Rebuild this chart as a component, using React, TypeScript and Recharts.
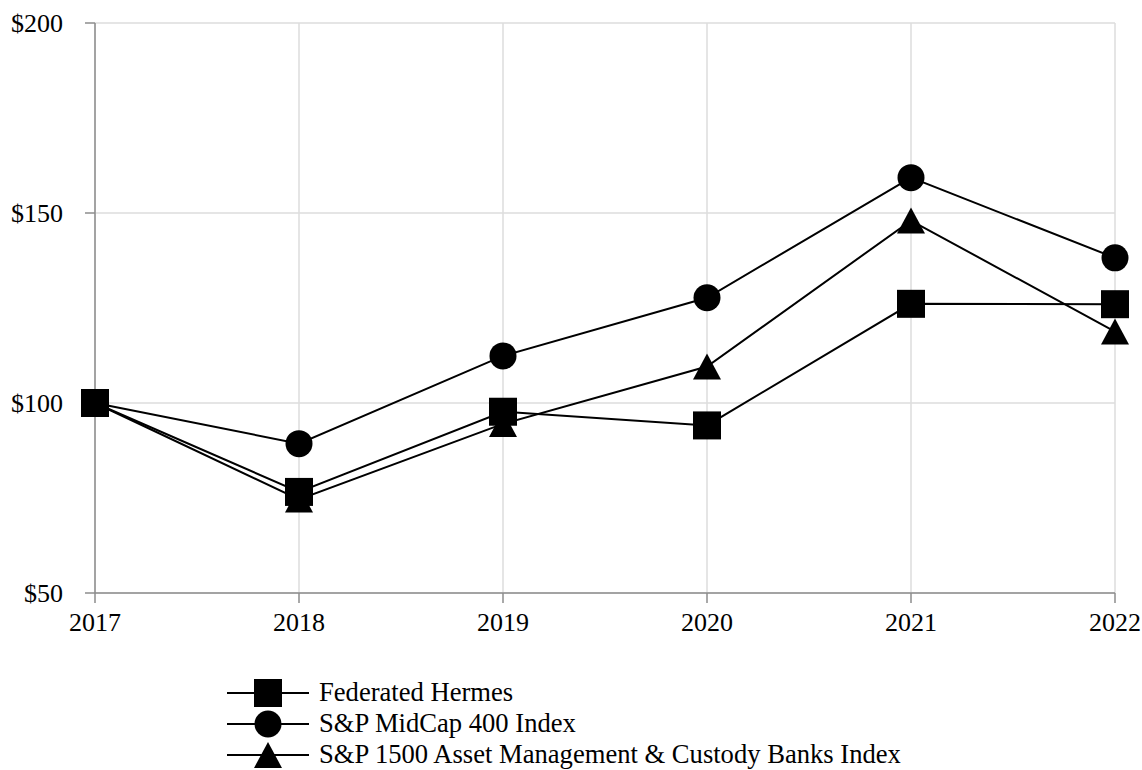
import React from "react";
import { LineChart, Line, XAxis, YAxis, CartesianGrid } from "recharts";

// ─── Data ─────────────────────────────────────────────────────────────────────
const years = ["2017", "2018", "2019", "2020", "2021", "2022"];
const federated = [100, 76.6, 97.7, 94.1, 126.1, 126.0];
const midcap = [100, 89.3, 112.4, 127.7, 159.3, 138.2];
const sp1500 = [100, 74.6, 94.5, 109.6, 148.0, 118.8];
const yTicks = [50, 100, 150, 200];

const seriesNames = {
  federated: "Federated Hermes",
  midcap: "S&P MidCap 400 Index",
  sp1500: "S&P 1500 Asset Management & Custody Banks Index",
};

const data = years.map((year, i) => ({
  year,
  federated: federated[i],
  midcap: midcap[i],
  sp1500: sp1500[i],
}));

const FONT = '"Liberation Serif", "Times New Roman", serif';
const AXIS = "#8c8c8c";
const GRID = "#dcdcdc";

// ─── Markers ──────────────────────────────────────────────────────────────────
const squareDot = (p: any) => (
  <rect key={`sq-${p.index}`} x={p.cx - 14} y={p.cy - 14} width={28} height={28} fill="#000" />
);
const circleDot = (p: any) => (
  <circle key={`ci-${p.index}`} cx={p.cx} cy={p.cy} r={13.5} fill="#000" />
);
const triangleDot = (p: any) => (
  <polygon
    key={`tr-${p.index}`}
    points={`${p.cx},${p.cy - 13} ${p.cx + 14},${p.cy + 13} ${p.cx - 14},${p.cy + 13}`}
    fill="#000"
  />
);

const LegendIcon = ({ kind }: { kind: string }) => (
  <svg width={82} height={30} style={{ display: "block" }}>
    <line x1={0} y1={15} x2={82} y2={15} stroke="#000" strokeWidth={2} />
    {kind === "square" && <rect x={27} y={1} width={28} height={28} fill="#000" />}
    {kind === "circle" && <circle cx={41} cy={15} r={13.5} fill="#000" />}
    {kind === "triangle" && <polygon points="41,2 55,28 27,28" fill="#000" />}
  </svg>
);

// ─── Component ────────────────────────────────────────────────────────────────
export default function App() {
  const legendItems = [
    { kind: "square", label: seriesNames.federated },
    { kind: "circle", label: seriesNames.midcap },
    { kind: "triangle", label: seriesNames.sp1500 },
  ];

  return (
    <div style={{ position: "absolute", left: 0, top: 0, width: 1142, height: 770, background: "#fff", fontFamily: FONT }}>
      <LineChart width={1142} height={770} data={data} margin={{ top: 23, right: 27, left: 0, bottom: 137 }}>
        <CartesianGrid stroke={GRID} strokeWidth={1.5} />
        <XAxis
          dataKey="year"
          height={40}
          stroke={AXIS}
          strokeWidth={1.5}
          tickSize={10}
          tickMargin={10}
          tick={{ fill: "#000", fontSize: 26, fontFamily: FONT }}
          interval={0}
        />
        <YAxis
          domain={[50, 200]}
          ticks={yTicks}
          width={95}
          stroke={AXIS}
          strokeWidth={1.5}
          tickSize={10}
          tickMargin={22}
          tick={{ fill: "#000", fontSize: 26, fontFamily: FONT }}
          tickFormatter={(v: number) => `$${v}`}
        />
        <Line dataKey="sp1500" name={seriesNames.sp1500} stroke="#000" strokeWidth={2} dot={triangleDot} activeDot={false} isAnimationActive={false} />
        <Line dataKey="midcap" name={seriesNames.midcap} stroke="#000" strokeWidth={2} dot={circleDot} activeDot={false} isAnimationActive={false} />
        <Line dataKey="federated" name={seriesNames.federated} stroke="#000" strokeWidth={2} dot={squareDot} activeDot={false} isAnimationActive={false} />
      </LineChart>

      {/* legend */}
      <div style={{ position: "absolute", left: 227, top: 677 }}>
        {legendItems.map((it) => (
          <div key={it.label} style={{ display: "flex", alignItems: "center", height: 31 }}>
            <LegendIcon kind={it.kind} />
            <span style={{ fontSize: 26.6, marginLeft: 10, lineHeight: "31px", color: "#000" }}>{it.label}</span>
          </div>
        ))}
      </div>
    </div>
  );
}
